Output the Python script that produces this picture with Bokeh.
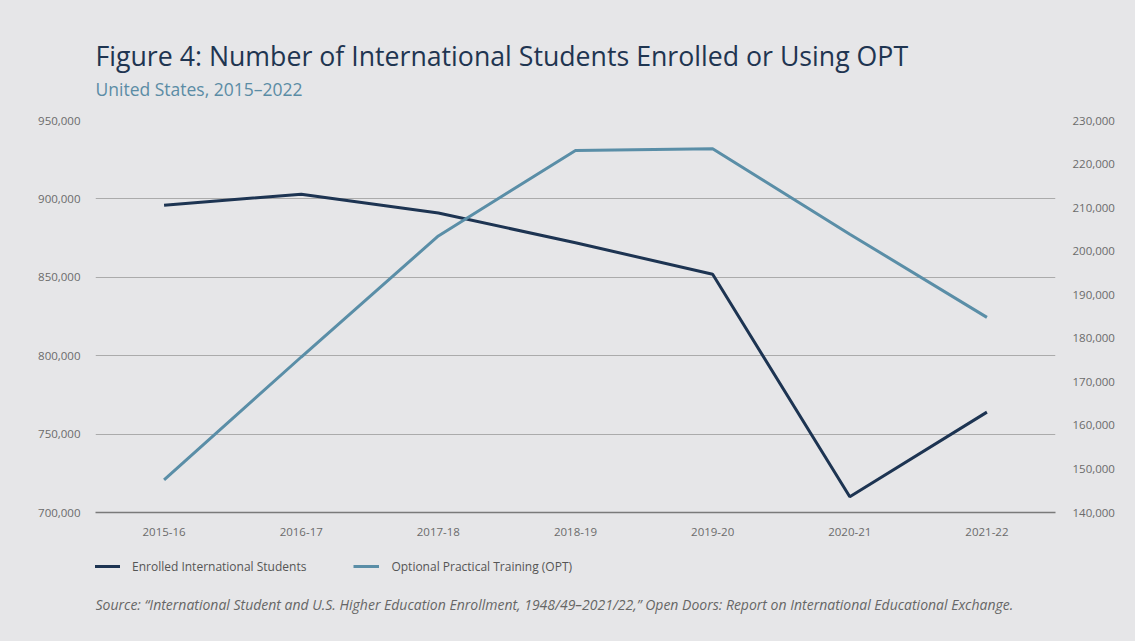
from bokeh.plotting import figure
from bokeh.models import (Range1d, LinearAxis, FixedTicker, Legend, LegendItem,
                          NumeralTickFormatter, Label)
from bokeh.layouts import column
from bokeh.embed import file_html
from bokeh.resources import INLINE

years = ["2015-16", "2016-17", "2017-18", "2018-19", "2019-20", "2020-21", "2021-22"]
enrolled = [896000, 903000, 891000, 872000, 852000, 710000, 764000]
opt = [147500, 175700, 203500, 223100, 223500, 203900, 184800]
left_ticks = [700000, 750000, 800000, 850000, 900000, 950000]
right_ticks = [140000, 150000, 160000, 170000, 180000, 190000, 200000, 210000, 220000, 230000]

title_text = "Figure 4: Number of International Students Enrolled or Using OPT"
subtitle_text = "United States, 2015\u20132022"
series_names = ["Enrolled International Students", "Optional Practical Training (OPT)"]
source_text = ("Source: \u201cInternational Student and U.S. Higher Education Enrollment, "
               "1948/49\u20132021/22,\u201d Open Doors: Report on International Educational Exchange.")

BG = "#e6e6e8"
DARK = "#1d3452"
LIGHT = "#5a8ea7"
FONT = "Open Sans"
W = 1135
NAN = float("nan")


def blank(height):
    f = figure(width=W, height=height, x_range=Range1d(0, 1), y_range=Range1d(0, 1),
               output_backend="svg", toolbar_location=None,
               min_border_left=0, min_border_right=0, min_border_top=0, min_border_bottom=0,
               x_axis_type=None, y_axis_type=None)
    f.background_fill_color = None
    f.border_fill_color = BG
    f.outline_line_color = None
    f.grid.visible = False
    return f


# ---- header ----
header = blank(110)
header.add_layout(Label(x=0, y=55, x_units="screen", y_units="screen", text=title_text,
                        text_font=FONT, text_font_size="26.7px", text_color="#1f3551",
                        text_baseline="alphabetic"))
header.add_layout(Label(x=0, y=22, x_units="screen", y_units="screen", text=subtitle_text,
                        text_font=FONT, text_font_size="17.5px", text_color="#5b8ca5",
                        text_baseline="alphabetic"))

# ---- main chart ----
p = figure(width=W, height=435, x_range=years, y_range=Range1d(700000, 950000),
           output_backend="svg", toolbar_location=None,
           min_border_left=95, min_border_right=80, min_border_top=10, min_border_bottom=33)
p.background_fill_color = None
p.border_fill_color = BG
p.outline_line_color = None
p.extra_y_ranges = {"opt": Range1d(140000, 230000)}

p.yaxis.ticker = FixedTicker(ticks=left_ticks)
p.yaxis.formatter = NumeralTickFormatter(format="0,0")
p.yaxis.axis_line_color = None
p.yaxis.major_tick_line_color = None
p.yaxis.minor_tick_line_color = None
p.yaxis.major_label_standoff = 9
p.yaxis.major_label_text_font = FONT
p.yaxis.major_label_text_font_size = "11.5px"
p.yaxis.major_label_text_color = "#6b6b6b"

p.xaxis.axis_line_color = "#7a7a7a"
p.xaxis.axis_line_width = 1.5
p.xaxis.major_tick_line_color = None
p.xaxis.minor_tick_line_color = None
p.xaxis.major_label_standoff = 9
p.xaxis.major_label_text_font = FONT
p.xaxis.major_label_text_font_size = "11.5px"
p.xaxis.major_label_text_color = "#6b6b6b"

ra = LinearAxis(y_range_name="opt", ticker=FixedTicker(ticks=right_ticks),
                formatter=NumeralTickFormatter(format="0,0"))
ra.axis_line_color = None
ra.major_tick_line_color = None
ra.minor_tick_line_color = None
ra.major_label_standoff = 11
ra.major_label_text_font = FONT
ra.major_label_text_font_size = "11.5px"
ra.major_label_text_color = "#6b6b6b"
p.add_layout(ra, "right")

p.xgrid.grid_line_color = None
p.ygrid.ticker = FixedTicker(ticks=left_ticks)
p.ygrid.grid_line_color = "#ababab"
p.ygrid.grid_line_width = 1

p.line(years, enrolled, line_color=DARK, line_width=3)
p.line(years, opt, line_color=LIGHT, line_width=3, y_range_name="opt")

# ---- footer: legend + source ----
footer = blank(96)
# legend-key renderers (hold no visible data; they only supply legend swatches)
k1 = footer.line(x=[NAN], y=[NAN], line_color=DARK, line_width=3)
k2 = footer.line(x=[NAN], y=[NAN], line_color=LIGHT, line_width=3)
legend = Legend(items=[LegendItem(label=series_names[0], renderers=[k1]),
                       LegendItem(label=series_names[1], renderers=[k2])],
                orientation="horizontal", location=(-1, 65),
                background_fill_alpha=0, border_line_color=None,
                padding=0, margin=0, spacing=47, label_standoff=12,
                glyph_width=26, glyph_height=20, label_height=20,
                label_text_font=FONT, label_text_font_size="12px",
                label_text_color="#555555")
footer.add_layout(legend, "center")
footer.add_layout(Label(x=0, y=37, x_units="screen", y_units="screen", text=source_text,
                        text_font=FONT, text_font_size="14px", text_font_style="italic",
                        text_color="#666666", text_baseline="alphabetic"))

layout = column(header, p, footer, spacing=0, styles={"background-color": BG})
open("out.html", "w").write(file_html(layout, INLINE))
